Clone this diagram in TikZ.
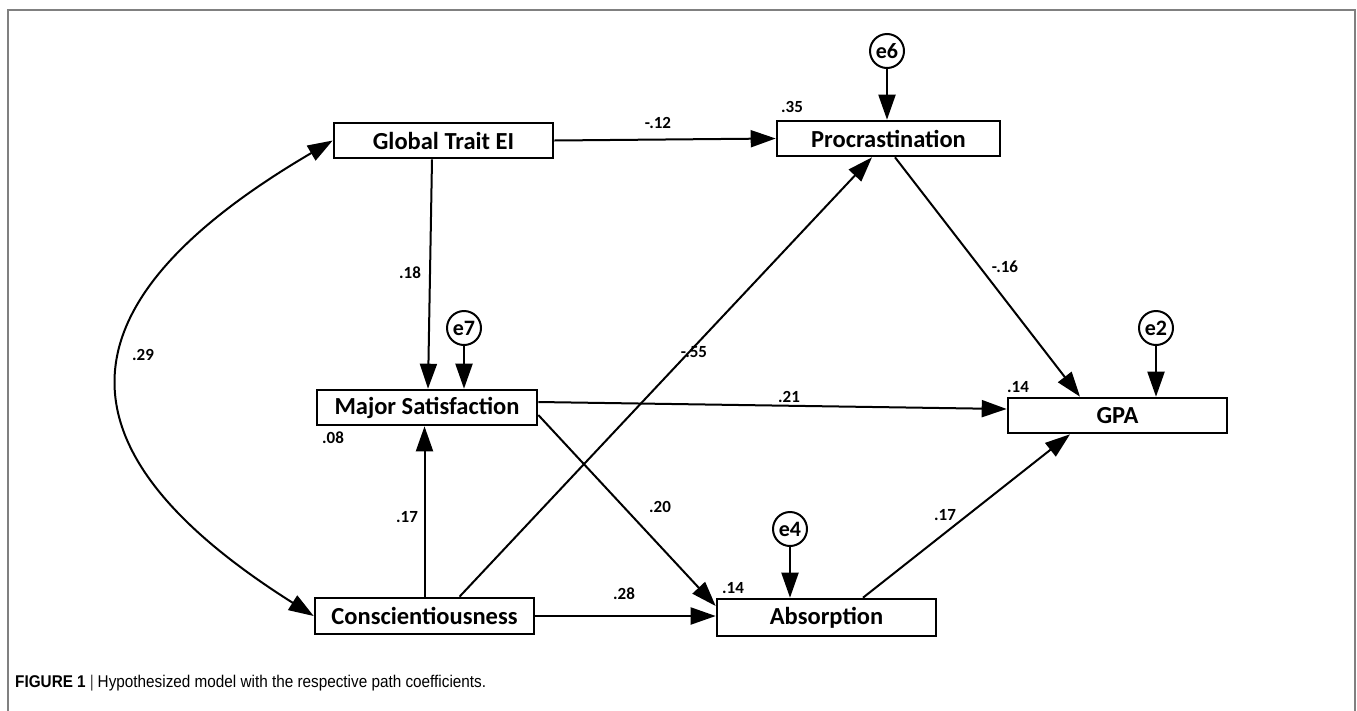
\documentclass[tikz,border=0pt]{standalone}
\usepackage{fontspec}
\setmainfont{Carlito}
\newfontfamily\capfont[FakeStretch=0.9]{Liberation Sans}
\usetikzlibrary{arrows.meta}
\definecolor{framegray}{HTML}{808080}
\begin{document}
\begin{tikzpicture}[x=1pt,y=-1pt,
  >={Triangle[length=25pt,width=17pt]},
  box/.style={draw, line width=2.6pt, inner sep=0pt, minimum width=219pt, minimum height=35pt,
    font=\fontsize{24.5}{28}\selectfont\bfseries},
  err/.style={draw, circle, line width=2pt, inner sep=0pt, minimum size=34pt,
    font=\fontsize{22}{26}\selectfont\bfseries},
  link/.style={line width=2pt, ->},
  coef/.style={inner sep=0pt, font=\fontsize{17}{20}\selectfont\bfseries}]
\useasboundingbox (0,0) rectangle (1357,710);
\draw[framegray, line width=2pt] (8,715) -- (8,10) -- (1355,10) -- (1355,715);

% boxes
\node[box] (gte)  at (443.5,140.5) {Global Trait EI};
\node[box, minimum width=223pt] (proc) at (888.5,138.5) {Procrastination};
\node[box, minimum width=220pt] (ms)   at (427,407.5) {Major Satisfaction};
\node[box] (gpa)  at (1117.5,415.5) {GPA};
\node[box, minimum height=36pt] (con)  at (424.5,616) {Conscientiousness};
\node[box, minimum height=37pt] (abs)  at (826.5,617.5) {Absorption};

% error terms
\node[err] (e6) at (887,51) {e6};
\node[err] (e7) at (464,328) {e7};
\node[err] (e2) at (1156,328) {e2};
\node[err] (e4) at (790,529) {e4};

% paths
\draw[link] (gte.east) -- (proc.west);
\draw[link] ([xshift=-11.5pt]gte.south) -- ([xshift=1pt]ms.north);
\draw[link] (e7.south) -- (e7.south |- ms.north);
\draw[link] (e6.south) -- (e6.south |- proc.north);
\draw[link] (e2.south) -- (e2.south |- gpa.north);
\draw[link] (e4.south) -- (e4.south |- abs.north);
\draw[link] (con.north) -- (con.north |- ms.south);
\draw[link] ([xshift=35pt]con.north) -- ([xshift=-16.5pt]proc.south);
\draw[link] ([xshift=6.5pt]proc.south) -- ([xshift=-37.5pt]gpa.north);
\draw[link] ([yshift=5.5pt]ms.east) -- ([yshift=6.5pt]gpa.west);
\draw[link] ([yshift=-7.5pt]ms.east) -- ([yshift=11.5pt]abs.west);
\draw[link] (con.east) -- (con.east -| abs.west);
\draw[link] ([xshift=36.5pt]abs.north) -- ([xshift=-47.5pt]gpa.south);
\draw[line width=2pt, <->] (gte.west) .. controls (52,305) and (52,451) .. (con.west);

% coefficients
\node[coef] (c1)  at (658,123) {-.12};
\node[coef] (c2)  at (792,107) {.35};
\node[coef] (c3)  at (410,273) {.18};
\node[coef] (c4)  at (143,355) {.29};
\node[coef] (c5)  at (694,352) {-.55};
\node[coef] (c6)  at (1005,267) {-.16};
\node[coef] (c7)  at (1018,387) {.14};
\node[coef] (c8)  at (789,397) {.21};
\node[coef] (c9)  at (333,438) {.08};
\node[coef] (c10) at (660,507) {.20};
\node[coef] (c11) at (407,517) {.17};
\node[coef] (c12) at (945,515) {.17};
\node[coef] (c13) at (624,594) {.28};
\node[coef] (c14) at (733,588) {.14};

% caption
\node[anchor=base west, inner sep=0pt] (cap) at (15,687)
  {\capfont\fontsize{17}{20}\selectfont\textbf{FIGURE 1}\hspace{4pt}{\color{black!75}|}\hspace{4pt}Hypothesized model with the respective path coefficients.};
\end{tikzpicture}
\end{document}
